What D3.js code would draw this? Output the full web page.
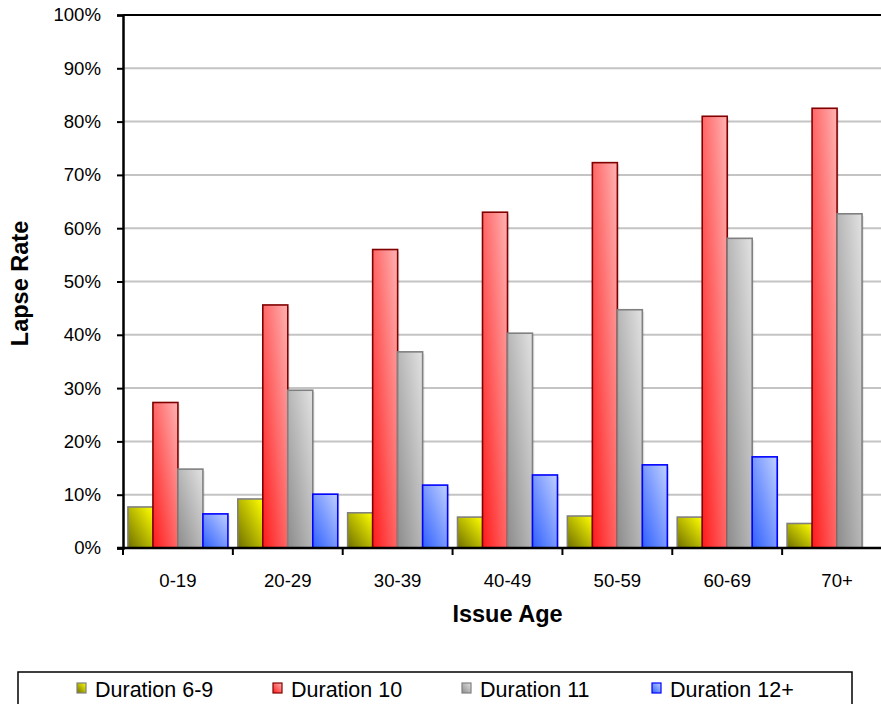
<!DOCTYPE html>
<html>
<head>
<meta charset="utf-8">
<script src="https://cdn.jsdelivr.net/npm/d3@7"></script>
<style>
  html, body { margin: 0; padding: 0; background: #fff; }
  svg { display: block; font-family: "Liberation Sans", Arial, sans-serif; }
</style>
</head>
<body>
<svg id="chart" width="881" height="704"></svg>
<script>
// Lapse rate by issue age, one bar per duration band
const categories = ["0-19", "20-29", "30-39", "40-49", "50-59", "60-69", "70+"];
const seriesNames = ["Duration 6-9", "Duration 10", "Duration 11", "Duration 12+"];
const duration6to9 = [7.7, 9.2, 6.6, 5.8, 6.0, 5.8, 4.6];
const duration10 = [27.3, 45.6, 56.0, 63.0, 72.3, 81.0, 82.5];
const duration11 = [14.8, 29.6, 36.8, 40.3, 44.7, 58.1, 62.7];
const duration12plus = [6.4, 10.1, 11.8, 13.7, 15.6, 17.1, null];
const yTicks = [0, 10, 20, 30, 40, 50, 60, 70, 80, 90, 100];

const seriesValues = [duration6to9, duration10, duration11, duration12plus];

// fill gradients (dark lower-left to light upper-right) and outlines per series
const styles = [
  { dark: "#6e6e00", light: "#ffff00", stroke: "#808080" },
  { dark: "#ff1a1a", light: "#ffb3b3", stroke: "#800000" },
  { dark: "#8c8c8c", light: "#e2e2e2", stroke: "#808080" },
  { dark: "#3060ff", light: "#c0d0ff", stroke: "#0000ff" }
];

const svg = d3.select("#chart");
const margin = { left: 123, top: 15 };
const plotW = 769, plotH = 533;

const defs = svg.append("defs");
styles.forEach((s, i) => {
  const g = defs.append("linearGradient")
    .attr("id", "grad" + i)
    .attr("x1", 0).attr("y1", 1).attr("x2", 1).attr("y2", 0);
  g.append("stop").attr("offset", "0%").attr("stop-color", s.dark);
  g.append("stop").attr("offset", "100%").attr("stop-color", s.light);
});

const x0 = d3.scaleBand().domain(categories).range([0, plotW]).paddingInner(0.09).paddingOuter(0.045);
const x1 = d3.scaleBand().domain(seriesNames).range([0, x0.bandwidth()]);
const y = d3.scaleLinear().domain([0, 100]).range([plotH, 0]);

const plot = svg.append("g").attr("transform", `translate(${margin.left},${margin.top})`);

// horizontal gridlines
plot.append("g").selectAll("line")
  .data(yTicks.filter(t => t > 0 && t < 100))
  .join("line")
  .attr("x1", 0).attr("x2", plotW)
  .attr("y1", d => y(d)).attr("y2", d => y(d))
  .attr("stroke", "#c4c4c4").attr("stroke-width", 2);

// top border of the plot area
plot.append("line")
  .attr("x1", 0).attr("x2", plotW).attr("y1", 0).attr("y2", 0)
  .attr("stroke", "#000").attr("stroke-width", 2);

// bars
const groups = plot.append("g").selectAll("g")
  .data(categories)
  .join("g")
  .attr("transform", d => `translate(${x0(d)},0)`);

groups.each(function (cat, ci) {
  const g = d3.select(this);
  const bars = seriesNames.map((name, si) => ({ name, si, v: seriesValues[si][ci] }))
    .filter(d => d.v != null);
  // soft drop shadow
  g.selectAll("rect.shadow").data(bars).join("rect")
    .attr("class", "shadow")
    .attr("x", d => x1(d.name) + 2)
    .attr("y", d => y(d.v) + 2)
    .attr("width", x1.bandwidth())
    .attr("height", d => plotH - y(d.v) - 2)
    .attr("fill", "#000").attr("opacity", 0.08);
  g.selectAll("rect.bar").data(bars).join("rect")
    .attr("class", "bar")
    .attr("x", d => x1(d.name))
    .attr("y", d => y(d.v))
    .attr("width", x1.bandwidth())
    .attr("height", d => plotH - y(d.v))
    .attr("fill", d => `url(#grad${d.si})`)
    .attr("stroke", d => styles[d.si].stroke)
    .attr("stroke-width", 1.6);
});

// y axis
const yAxis = plot.append("g")
  .call(d3.axisLeft(y).tickValues(yTicks).tickFormat(d => d + "%").tickSize(6).tickPadding(16));
yAxis.select(".domain").attr("stroke", "#000").attr("stroke-width", 2.5);
yAxis.selectAll(".tick line").attr("stroke", "#000").attr("stroke-width", 2);
yAxis.selectAll(".tick text").attr("font-size", 18.6).attr("fill", "#000")
  .attr("font-family", "Liberation Sans, Arial, sans-serif");

// x axis with ticks at category boundaries
const xAxis = plot.append("g").attr("transform", `translate(0,${plotH})`);
xAxis.append("line").attr("x1", -6).attr("x2", plotW).attr("y1", 0).attr("y2", 0)
  .attr("stroke", "#000").attr("stroke-width", 2.5);
const step = x0.step();
xAxis.selectAll("line.tick").data(d3.range(categories.length + 1))
  .join("line").attr("class", "tick")
  .attr("x1", i => i * step).attr("x2", i => i * step)
  .attr("y1", 0).attr("y2", 7)
  .attr("stroke", "#000").attr("stroke-width", 2);
xAxis.selectAll("text").data(categories).join("text")
  .attr("x", d => x0(d) + x0.bandwidth() / 2)
  .attr("y", 39)
  .attr("text-anchor", "middle")
  .attr("font-size", 18.6)
  .attr("fill", "#000")
  .text(d => d);

// axis titles
plot.append("text")
  .attr("x", plotW / 2).attr("y", plotH + 74)
  .attr("text-anchor", "middle")
  .attr("font-size", 23.5).attr("font-weight", "bold")
  .text("Issue Age");

svg.append("text")
  .attr("transform", `translate(28,${margin.top + plotH / 2 + 2}) rotate(-90)`)
  .attr("text-anchor", "middle")
  .attr("font-size", 23.5).attr("font-weight", "bold")
  .text("Lapse Rate");

// legend
const legend = svg.append("g");
legend.append("rect")
  .attr("x", 18).attr("y", 672).attr("width", 834).attr("height", 60)
  .attr("fill", "#fff").attr("stroke", "#000").attr("stroke-width", 1.5);
const legendX = [95, 291, 480, 670];
seriesNames.forEach((name, i) => {
  legend.append("rect")
    .attr("x", legendX[i] - 18).attr("y", 683)
    .attr("width", 9).attr("height", 10)
    .attr("fill", `url(#grad${i})`)
    .attr("stroke", styles[i].stroke).attr("stroke-width", 1.2);
  legend.append("text")
    .attr("x", legendX[i]).attr("y", 697)
    .attr("font-size", 21.5).attr("fill", "#000")
    .text(name);
});
</script>
</body>
</html>
